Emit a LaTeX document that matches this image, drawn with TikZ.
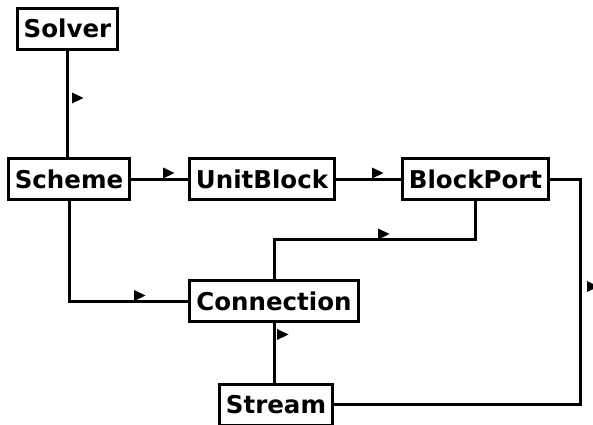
\documentclass[tikz,border=0pt]{standalone}
\usepackage{fontspec}
\setmainfont{DejaVu Sans}
\usepackage{tikz}
\usetikzlibrary{positioning}

% small right-pointing mark beside a connector
\newcommand{\flowtip}[1]{\fill #1 ++(0,-5.5) -- ++(11.5,5.5) -- ++(-11.5,5.5) -- cycle;}

\begin{document}
\begin{tikzpicture}[
  x=1pt, y=-1pt,
  box/.style={draw,line width=3pt,fill=white,inner xsep=6.5pt,
              minimum height=41pt,font=\fontsize{24.5}{28}\selectfont\bfseries},
  link/.style={line width=3pt}
]
\useasboundingbox (0,0) rectangle (593,424);
\node[box] (solver) at (67.5,28.5) {Solver};
\node[box] (scheme) at (69,179) {Scheme};
\node[box] (unitblock) at (262,179) {UnitBlock};
\node[box] (blockport) at (475.5,179) {BlockPort};
\node[box] (connection) at (274,301) {Connection};
\node[box] (stream) at (276,404.5) {Stream};
\coordinate (turn) at (580,404.5);
\draw[link] (solver.south) -- (solver.south |- scheme.north);
\draw[link] (scheme) -- (unitblock);
\draw[link] (unitblock) -- (blockport);
\draw[link] (blockport.east) -| (turn) -- (stream.east);
\draw[link] (blockport.south) -- ++(0,38) -| (connection.north);
\draw[link] (scheme.south) |- (connection.west);
\draw[link] (connection.south) -- (connection.south |- stream.north);
\flowtip{(72,98)}
\flowtip{(163,173)}
\flowtip{(372,173)}
\flowtip{(378,234)}
\flowtip{(134,295.5)}
\flowtip{(587,286.5)}
\flowtip{(277,334.5)}
\end{tikzpicture}
\end{document}
